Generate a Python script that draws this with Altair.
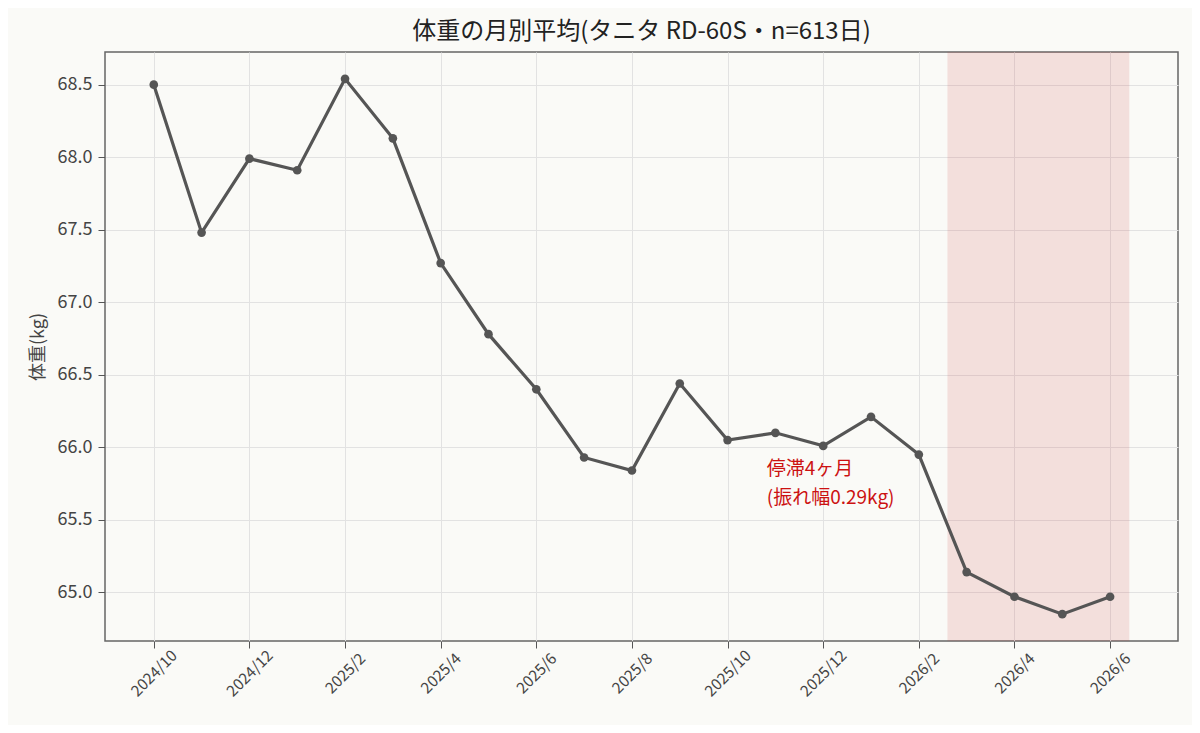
import altair as alt
import pandas as pd

months = ["2024/10", "2024/11", "2024/12", "2025/1", "2025/2", "2025/3", "2025/4",
          "2025/5", "2025/6", "2025/7", "2025/8", "2025/9", "2025/10", "2025/11",
          "2025/12", "2026/1", "2026/2", "2026/3", "2026/4", "2026/5", "2026/6"]
weights = [68.50, 67.48, 67.99, 67.91, 68.54, 68.13, 67.27, 66.78, 66.40, 65.93,
           65.84, 66.44, 66.05, 66.10, 66.01, 66.21, 65.95, 65.14, 64.97, 64.85, 64.97]

shade_start = [16.6]
shade_end = [20.4]
note_lines = ["停滞4ヶ月", "(振れ幅0.29kg)"]
note_y = [65.91, 65.71]

FONT = "Noto Sans CJK JP"

df = pd.DataFrame({"i": list(range(len(months))), "month": months, "w": weights})
shade_df = pd.DataFrame({"x0": shade_start, "x1": shade_end})
note_df = pd.DataFrame({"x": [12.82, 12.82], "y": note_y, "t": note_lines})

label_js = "[" + ",".join("'" + m + "'" for m in months) + "][datum.value]"

xscale = alt.Scale(domain=[-1.02, 21.42], nice=False, zero=False)
yscale = alt.Scale(domain=[64.665, 68.725], nice=False, zero=False)

xaxis = alt.Axis(values=list(range(0, 21, 2)), labelExpr=label_js, labelAngle=-45,
                 labelAlign="center", labelBaseline="middle", labelFontSize=15.5,
                 labelColor="#444444", title=None, grid=True, gridColor="#e2e2e2",
                 tickColor="#555555", tickSize=7, domain=False, labelPadding=25,
                 labelFont=FONT)
yaxis = alt.Axis(values=[65.0, 65.5, 66.0, 66.5, 67.0, 67.5, 68.0, 68.5], format=".1f",
                 labelFontSize=18, labelColor="#444444", title="体重(kg)",
                 titleFontSize=18, titleFontWeight="normal", titleColor="#444444",
                 titleFont=FONT, labelFont=FONT, grid=True, gridColor="#e2e2e2",
                 tickColor="#555555", tickSize=7, domain=False, titlePadding=10,
                 labelPadding=6)

shade = alt.Chart(shade_df).mark_rect(color="#cc3333", opacity=0.13,
                                      stroke="#cc3333", strokeOpacity=0.12,
                                      strokeWidth=1).encode(
    x=alt.X("x0:Q", scale=xscale, axis=xaxis),
    x2="x1:Q",
    y=alt.value(0),
    y2=alt.value(589),
)

line = alt.Chart(df).mark_line(color="#555555", strokeWidth=3.2).encode(
    x=alt.X("i:Q", scale=xscale, axis=xaxis),
    y=alt.Y("w:Q", scale=yscale, axis=yaxis),
)
pts = alt.Chart(df).mark_circle(color="#555555", size=75, opacity=1).encode(
    x=alt.X("i:Q", scale=xscale),
    y=alt.Y("w:Q", scale=yscale),
)
note = alt.Chart(note_df).mark_text(align="left", baseline="top", fontSize=19,
                                    color="#cc1111", font=FONT).encode(
    x=alt.X("x:Q", scale=xscale),
    y=alt.Y("y:Q", scale=yscale),
    text="t:N",
)

chart = alt.layer(shade, line, pts, note).properties(
    width=1073, height=589,
    title=alt.TitleParams("体重の月別平均(タニタ RD-60S・n=613日)", fontSize=24,
                          font=FONT, fontWeight="normal", color="#222222",
                          offset=8, dx=0),
    autosize=alt.AutoSizeParams(type="none"),
    padding={"left": 97, "top": 44, "right": 14, "bottom": 84},
    background="#fafaf7",
).configure(font=FONT).configure_view(stroke="#666666", strokeWidth=1.5)

chart.save("out.html", embed_options={"renderer": "svg", "actions": False})
